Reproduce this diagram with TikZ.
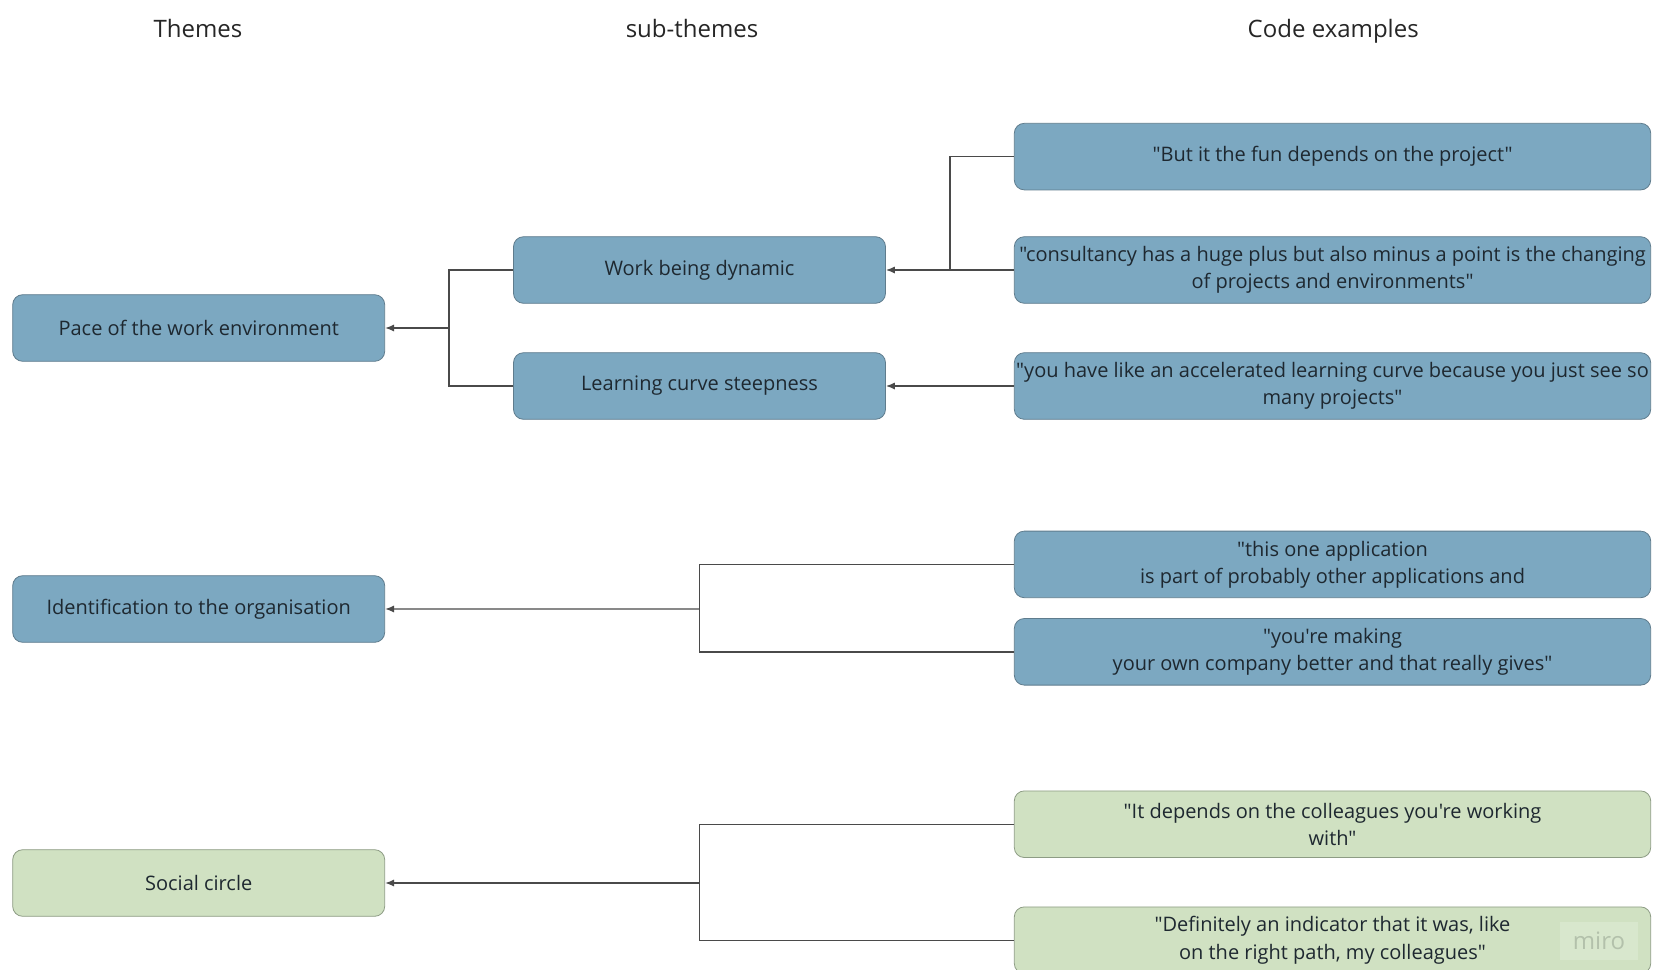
\documentclass[tikz,border=0pt]{standalone}
\usepackage{fontspec}
\setmainfont{Open Sans}[Ligatures=TeXReset]
\usetikzlibrary{positioning,calc,arrows.meta}
\definecolor{paceblue}{HTML}{7CA8C1}
\definecolor{paceedge}{HTML}{5F7C8D}
\definecolor{socialgreen}{HTML}{D0E1C2}
\definecolor{socialedge}{HTML}{8D9C84}
\definecolor{wiregray}{HTML}{4A4A4A}
\definecolor{inkdark}{HTML}{1E2830}
\definecolor{miroback}{HTML}{D8E7CD}
\definecolor{miroink}{HTML}{B3C1AB}
\tikzstyle{themebox} = [rectangle, draw=paceedge, fill=paceblue, text=inkdark, text centered, rounded corners=5pt, minimum width=186pt, minimum height=33.3pt, font=\fontsize{10}{13.6}\selectfont]
\tikzstyle{codebox} = [themebox, align=center, minimum width=318.2pt, inner xsep=0pt]
\tikzstyle{greenbox} = [fill=socialgreen, draw=socialedge]
\tikzstyle{heading} = [anchor=base, font=\fontsize{12}{14}\selectfont, text=black!85]
\tikzstyle{wire} = [line width=0.7pt, draw=wiregray]
\tikzstyle{connector} = [wire, -{Latex[length=4.5pt, width=3.6pt]}]

\begin{document}
\begin{tikzpicture}
            \useasboundingbox (0,0) rectangle (828.5pt,-484.5pt);
            \node (themehead) [heading] at (99pt,-18.6pt) {Themes};
            \node (subhead) [heading] at (346pt,-18.6pt) {sub-themes};
            \node (codehead) [heading] at (666.6pt,-18.6pt) {Code examples};
            \node (pace) [themebox] at (99.35pt,-164pt) {Pace of the work environment};
            \node (ident) [themebox, below=106.8pt of pace] {Identification to the organisation};
            \node (social) [themebox, greenbox, below=103.3pt of ident] {Social circle};
            \node (work) [themebox, right=64pt of pace, yshift=29pt] {Work being dynamic};
            \node (learn) [themebox, below=24.3pt of work] {Learning curve steepness};
            \node (change) [codebox, right=64pt of work] {"consultancy has a huge plus but also minus a point is the changing\\ of projects and environments"};
            \node (fun) [codebox, above=23pt of change] {"But it the fun depends on the project"};
            \node (curve) [codebox, right=64pt of learn] {"you have like an accelerated learning curve because you just see so\\ many projects"};
            \node (appl) [codebox, below=55.5pt of curve] {"this one application\\ is part of probably other applications and};
            \node (company) [codebox, below=10pt of appl] {"you're making\\ your own company better and that really gives"};
            \node (colleag) [codebox, greenbox, below=52.5pt of company] {"It depends on the colleagues you're working\\ with"};
            \node (path) [codebox, greenbox, below=24.3pt of colleag] {"Definitely an indicator that it was, like\\ on the right path, my colleagues"};
            \node (miro) [fill=miroback, text=miroink, minimum width=39pt, minimum height=19pt, font=\fontsize{12}{14}\selectfont] at (799.5pt,-470.3pt) {miro};
            % pace of work
            \coordinate (pacejoin) at ($(pace.east)!0.5!(work.west |- pace.east)$);
            \draw [wire] (work.west) -| (pacejoin);
            \draw [wire] (learn.west) -| (pacejoin);
            \draw [connector] (pacejoin) -- (pace.east);
            \coordinate (workjoin) at ($(work.east)!0.5!(change.west)$);
            \draw [wire] (fun.west) -| (workjoin);
            \draw [connector] (change.west) -- (work.east);
            \draw [connector] (curve.west) -- (learn.east);
            % identification
            \coordinate (identjoin) at ($(ident.east)!0.5!(appl.west |- ident.east)$);
            \draw [wire] (appl.west) -| (identjoin);
            \draw [wire] (company.west) -| (identjoin);
            \draw [connector] (identjoin) -- (ident.east);
            % social circle
            \coordinate (socialjoin) at ($(social.east)!0.5!(colleag.west |- social.east)$);
            \draw [wire] (colleag.west) -| (socialjoin);
            \draw [wire] (path.west) -| (socialjoin);
            \draw [connector] (socialjoin) -- (social.east);
        \end{tikzpicture}
\end{document}
